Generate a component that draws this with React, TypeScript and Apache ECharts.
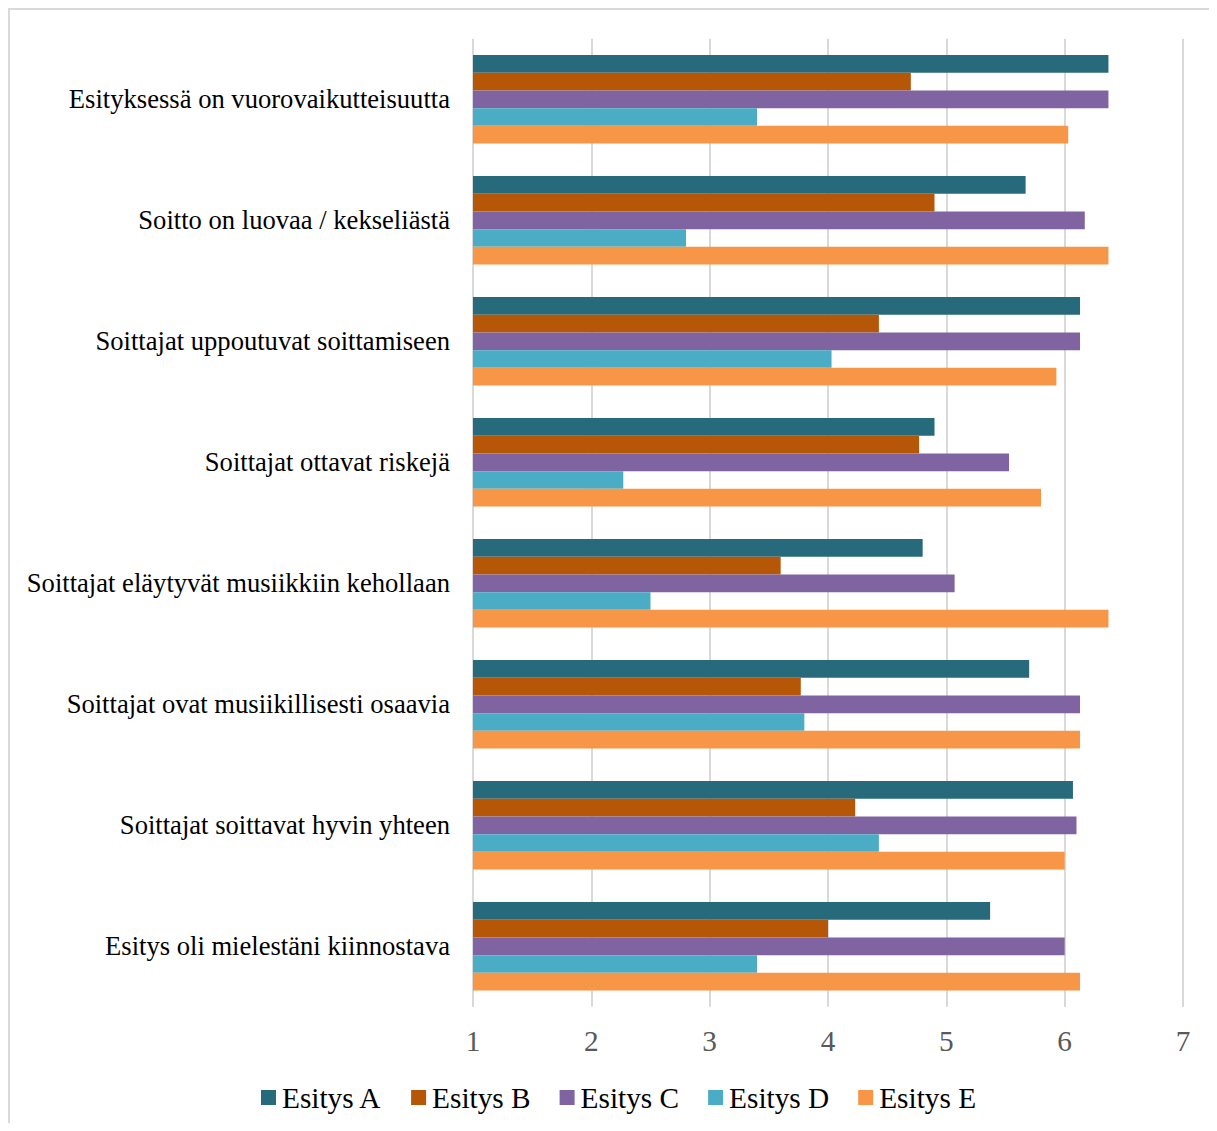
import React, { useEffect, useRef } from "react";
import * as echarts from "echarts";

const categories = [
  "Esityksessä on vuorovaikutteisuutta",
  "Soitto on luovaa / kekseliästä",
  "Soittajat uppoutuvat soittamiseen",
  "Soittajat ottavat riskejä",
  "Soittajat eläytyvät musiikkiin kehollaan",
  "Soittajat ovat musiikillisesti osaavia",
  "Soittajat soittavat hyvin yhteen",
  "Esitys oli mielestäni kiinnostava",
];

const seriesNames = ["Esitys A", "Esitys B", "Esitys C", "Esitys D", "Esitys E"];
const seriesColors = ["#276A7C", "#B65708", "#8064A2", "#4BACC6", "#F79646"];

const esitysA = [6.37, 5.67, 6.13, 4.9, 4.8, 5.7, 6.07, 5.37];
const esitysB = [4.7, 4.9, 4.43, 4.77, 3.6, 3.77, 4.23, 4.0];
const esitysC = [6.37, 6.17, 6.13, 5.53, 5.07, 6.13, 6.1, 6.0];
const esitysD = [3.4, 2.8, 4.03, 2.27, 2.5, 3.8, 4.43, 3.4];
const esitysE = [6.03, 6.37, 5.93, 5.8, 6.37, 6.13, 6.0, 6.13];

const seriesValues = [esitysA, esitysB, esitysC, esitysD, esitysE];

const xTicks = [1, 2, 3, 4, 5, 6, 7];

const FONT = "'Liberation Serif', 'Times New Roman', serif";

export default function App() {
  const ref = useRef<HTMLDivElement>(null);

  useEffect(() => {
    if (!ref.current) return;
    const chart = echarts.init(ref.current, undefined, { renderer: "svg" });
    chart.setOption({
      animation: false,
      backgroundColor: "#ffffff",
      textStyle: { fontFamily: FONT },
      grid: { left: 463, right: 34, top: 28.8, height: 968, containLabel: false },
      legend: {
        data: seriesNames,
        left: 246,
        top: 1068,
        itemWidth: 15,
        itemHeight: 15,
        itemGap: 29,
        icon: "rect",
        textStyle: { fontFamily: FONT, fontSize: 29.3, color: "#000000", padding: [0, 0, 0, 1] },
      },
      xAxis: {
        type: "value",
        min: xTicks[0],
        max: xTicks[xTicks.length - 1],
        interval: 1,
        axisLine: { show: false },
        axisTick: { show: false },
        axisLabel: { fontFamily: FONT, fontSize: 29.3, color: "#595959", margin: 20 },
        splitLine: { show: true, showMinLine: true, showMaxLine: true, lineStyle: { color: "#d9d9d9", width: 2 } },
      },
      yAxis: {
        type: "category",
        inverse: true,
        data: categories,
        axisLine: { show: false },
        axisTick: { show: false },
        splitLine: { show: false },
        axisLabel: { fontFamily: FONT, fontSize: 26.6, color: "#000000", margin: 23 },
      },
      series: seriesNames.map((name, i) => ({
        name,
        type: "bar",
        data: seriesValues[i],
        barWidth: 17.7,
        barGap: "0%",
        clip: true,
        itemStyle: { color: seriesColors[i] },
      })),
    });
    return () => chart.dispose();
  }, []);

  return (
    <div
      style={{
        width: 1207,
        height: 1113,
        borderLeft: "2px solid #d9d9d9",
        borderTop: "2px solid #d9d9d9",
        background: "#ffffff",
      }}
    >
      <div ref={ref} style={{ width: 1207, height: 1113 }} />
    </div>
  );
}
